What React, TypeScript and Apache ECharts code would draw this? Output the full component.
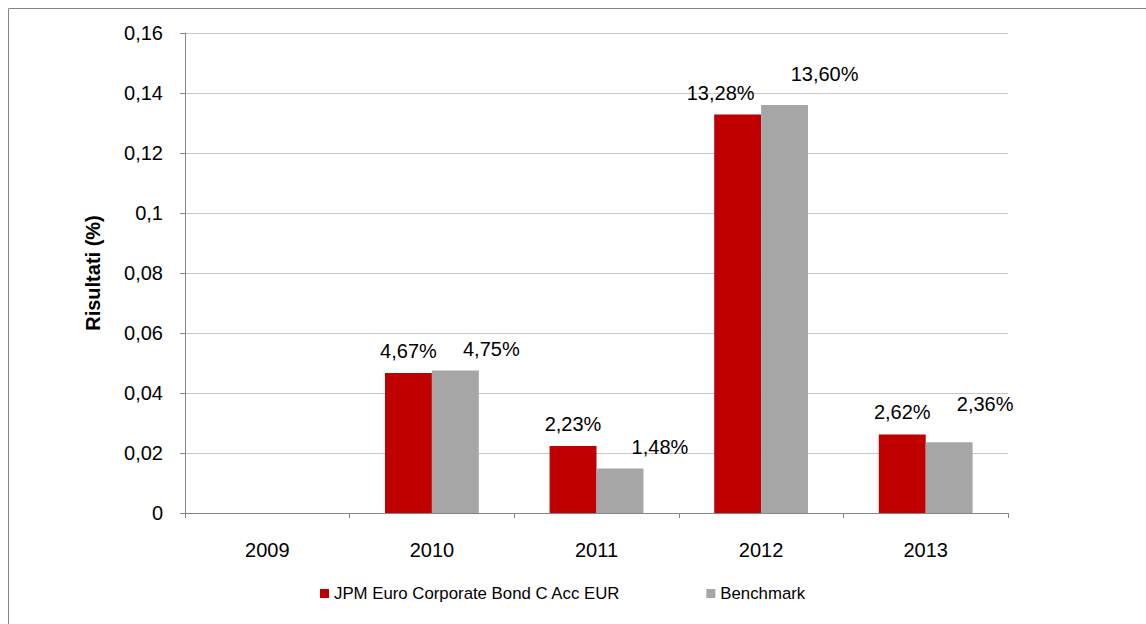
import React, { useEffect, useRef } from "react";
import * as echarts from "echarts";

const categories = ["2009", "2010", "2011", "2012", "2013"];
const fundName = "JPM Euro Corporate Bond C Acc EUR";
const benchName = "Benchmark";
const fundValues: (number | null)[] = [null, 0.0467, 0.0223, 0.1328, 0.0262];
const benchValues: (number | null)[] = [null, 0.0475, 0.0148, 0.136, 0.0236];
const yMin = 0;
const yMax = 0.16;
const yStep = 0.02;

// label nudges (layout only)
const fundLabelOffsets = [[0, 0], [0, 0], [0, 0], [-17, 0], [0, 0]];
const benchLabelOffsets = [[0, 0], [36, 0], [40, 0], [40, -9], [36, -16]];

const FONT = "'Liberation Sans', Arial, sans-serif";
const RED = "#C00000";
const GRAY = "#A6A6A6";

const pct = (v: number) => (v * 100).toFixed(2).replace(".", ",") + "%";

const buildData = (vals: (number | null)[], offs: number[][]) =>
  vals.map((v, i) => ({
    value: v,
    label: { offset: offs[i] },
  }));

export default function App() {
  const ref = useRef<HTMLDivElement>(null);
  useEffect(() => {
    if (!ref.current) return;
    const chart = echarts.init(ref.current, undefined, { renderer: "svg" });
    const labelStyle = {
      show: true,
      position: "top" as const,
      distance: 12,
      fontFamily: FONT,
      fontSize: 20,
      color: "#000",
      formatter: (p: any) => (p.value == null ? "" : pct(p.value)),
    };
    chart.setOption({
      animation: false,
      backgroundColor: "#fff",
      textStyle: { fontFamily: FONT },
      graphic: [
        {
          type: "rect",
          shape: { x: 8.5, y: 8.5, width: 1300, height: 800 },
          style: { fill: "none", stroke: "#868686", lineWidth: 1 },
          silent: true,
          z: -1,
        },
      ],
      grid: { left: 185, right: 138, top: 33, bottom: 111, containLabel: false },
      legend: {
        left: 320,
        top: 585,
        padding: 0,
        itemWidth: 9,
        itemHeight: 9,
        itemGap: 86,
        icon: "rect",
        textStyle: { fontFamily: FONT, fontSize: 16.8, color: "#000" },
        data: [fundName, benchName],
      },
      xAxis: {
        type: "category",
        data: categories,
        axisLine: { lineStyle: { color: "#868686", width: 1 } },
        axisTick: { show: true, length: 5, lineStyle: { color: "#868686" } },
        axisLabel: { fontFamily: FONT, fontSize: 20, color: "#000", margin: 27 },
      },
      yAxis: {
        type: "value",
        min: yMin,
        max: yMax,
        interval: yStep,
        name: "Risultati (%)",
        nameLocation: "middle",
        nameGap: 82,
        nameTextStyle: { fontFamily: FONT, fontSize: 20, fontWeight: "bold", color: "#000" },
        axisLine: { show: true, lineStyle: { color: "#868686", width: 1 } },
        axisTick: { show: true, length: 5, lineStyle: { color: "#868686" } },
        splitLine: { lineStyle: { color: "#C8C8C8", width: 1 } },
        axisLabel: {
          fontFamily: FONT,
          fontSize: 20,
          color: "#000",
          margin: 22,
          formatter: (v: number) => String(+v.toFixed(2)).replace(".", ","),
        },
      },
      series: [
        {
          name: fundName,
          type: "bar",
          data: buildData(fundValues, fundLabelOffsets),
          itemStyle: { color: RED },
          barWidth: "28.5%",
          barGap: "0%",
          label: labelStyle,
        },
        {
          name: benchName,
          type: "bar",
          data: buildData(benchValues, benchLabelOffsets),
          itemStyle: { color: GRAY },
          barWidth: "28.5%",
          barGap: "0%",
          label: labelStyle,
        },
      ],
    });
    return () => chart.dispose();
  }, []);
  return (
    <div
      ref={ref}
      style={{ position: "fixed", left: 0, top: 0, width: 1146, height: 624, background: "#fff" }}
    />
  );
}
